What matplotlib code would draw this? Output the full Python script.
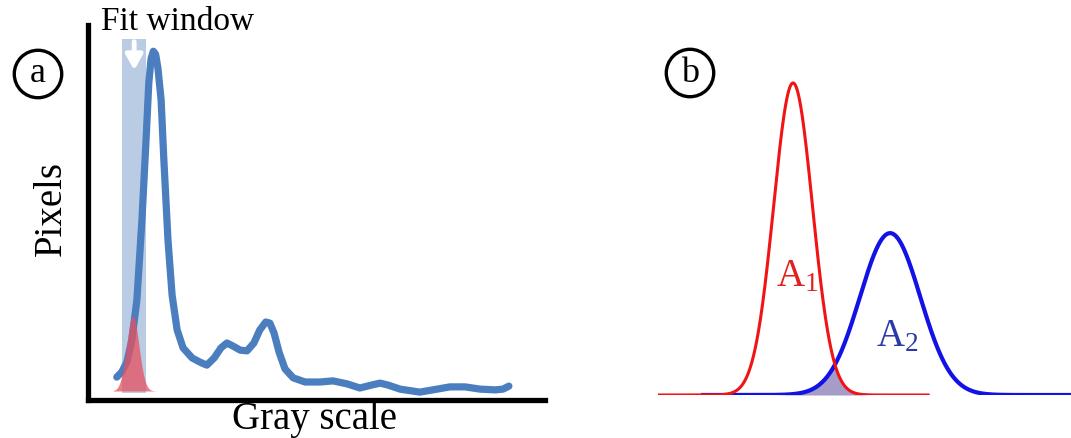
import numpy as np
import matplotlib
matplotlib.use('Agg')
import matplotlib.pyplot as plt

plt.rcParams['font.family'] = ['Liberation Serif', 'DejaVu Serif']
plt.rcParams['mathtext.fontset'] = 'custom'
plt.rcParams['mathtext.rm'] = 'Liberation Serif'
plt.rcParams['mathtext.it'] = 'Liberation Serif'

# panel a: gray level histogram (arbitrary units, 0..100)
hist_x = [6.3, 7.4, 8.5, 9.6, 10.7, 11.8, 12.7, 13.3, 13.8, 14.3, 14.8, 15.3, 16.0, 16.6,
          17.5, 18.4, 19.5, 20.8, 22.8, 24.5, 26.0, 27.6, 29.1, 30.4, 31.7, 33.3,
          34.8, 36.3, 37.6, 38.9, 39.8, 40.7, 41.8, 43.1, 44.9, 47.5, 50.8, 53.6,
          56.7, 59.5, 62.1, 63.9, 65.6, 68.3, 72.6, 76.4, 79.2, 82.5, 85.8, 89.1,
          90.8, 92.1]
hist_y = [6.1, 7.5, 10.1, 16.0, 26.7, 48.0, 69.3, 84.5, 91.0, 93.0, 92.2, 88.5, 80.0, 64.0,
          42.7, 28.0, 18.7, 13.9, 11.2, 10.1, 9.3, 11.2, 13.9, 15.2, 14.4, 13.3,
          13.1, 15.2, 18.7, 20.8, 20.5, 17.9, 12.8, 8.3, 5.9, 4.8, 4.8, 5.1,
          4.3, 3.2, 4.0, 4.5, 4.0, 2.9, 2.1, 2.9, 3.5, 3.5, 2.9, 2.7,
          2.9, 3.7]
fit_window = (7.4, 12.6)          # gray range of the fit window
fit_peak = dict(center=9.8, sigma=1.35, amp=20.0, base=2.4, lo=5.5, hi=15.8)

# panel b: two gaussian components
peak1 = dict(center=32.7, sigma=4.7, amp=87.9, lo=0.0, hi=65.4)
peak2 = dict(center=56.2, sigma=7.3, amp=45.6, lo=10.9, hi=100.0)


def gauss(x, p):
    return p['amp'] * np.exp(-0.5 * ((x - p['center']) / p['sigma']) ** 2)


W, H = 1071, 438
fig = plt.figure(figsize=(W / 100, H / 100), dpi=100)

# ---- panel a
axa = fig.add_axes([88 / W, (H - 400) / H, 457 / W, 375 / H])
axa.set_xlim(0, 100)
axa.set_ylim(0, 100)
axa.axvspan(fit_window[0], fit_window[1], ymin=0.019, ymax=0.963,
            color='#b9cce4', lw=0, zorder=1)
axa.annotate('', xy=(10.1, 87.2), xytext=(10.1, 96.3),
             arrowprops=dict(arrowstyle='-|>,head_width=0.5,head_length=0.9',
                             color='white', lw=3.5), zorder=2)
axa.plot(hist_x, hist_y, color='#4a7ebf', lw=5.2, solid_capstyle='round',
         solid_joinstyle='round', zorder=3)
xr = np.linspace(fit_peak['lo'], fit_peak['hi'], 200)
axa.fill_between(xr, fit_peak['base'], fit_peak['base'] + gauss(xr, fit_peak),
                 color='#e8505e', alpha=0.75, lw=0, zorder=4)
for s in ['top', 'right']:
    axa.spines[s].set_visible(False)
for s in ['left', 'bottom']:
    axa.spines[s].set_linewidth(3.8)
axa.set_xticks([])
axa.set_yticks([])

fig.text(178 / W, 1 - 22 / H, 'Fit window', fontsize=24, ha='center', va='center')
fig.text(51 / W, 1 - 208 / H, 'Pixels', fontsize=28, rotation=90,
         ha='center', va='center')
fig.text(314 / W, 1 - 420 / H, 'Gray scale', fontsize=28, ha='center', va='center')

circ = dict(boxstyle='circle,pad=0.2', fc='white', ec='black', lw=2.4)
fig.text(38 / W, 1 - 74 / H, 'a', fontsize=26, ha='center', va='center', bbox=circ)
fig.text(690 / W, 1 - 73 / H, 'b', fontsize=26, ha='center', va='center', bbox=circ)

# ---- panel b
axb = fig.add_axes([658 / W, (H - 395) / H, 413 / W, 355 / H])
axb.set_xlim(0, 100)
axb.set_ylim(0, 100)
axb.axis('off')
x1 = np.linspace(peak1['lo'], peak1['hi'], 600)
x2 = np.linspace(peak2['lo'], peak2['hi'], 600)
xo = np.linspace(peak2['lo'], peak1['hi'], 600)
axb.fill_between(xo, 0, np.minimum(gauss(xo, peak1), gauss(xo, peak2)),
                 color='#a59cc8', lw=0, zorder=1)
axb.plot(x2, gauss(x2, peak2), color='#1212e6', lw=3.0, zorder=2)
axb.plot(x1, gauss(x1, peak1), color='#f01414', lw=2.2, zorder=3)
axb.text(33.7, 33.2, r'A$_{\mathrm{1}}$', color='#e32020', fontsize=28,
         ha='center', va='center')
axb.text(57.9, 16.3, r'A$_{\mathrm{2}}$', color='#2a3aa8', fontsize=28,
         ha='center', va='center')

fig.savefig('out.png', dpi=100, facecolor='white')
